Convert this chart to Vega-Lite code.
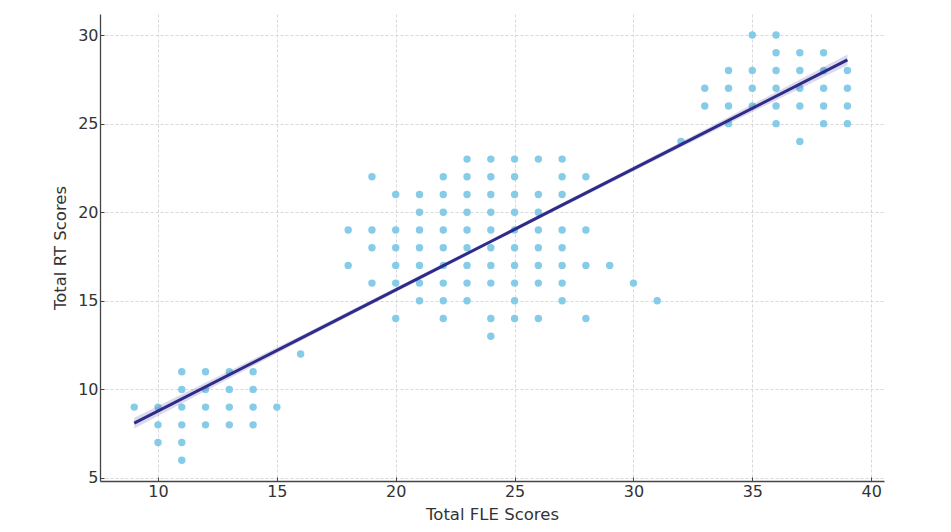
{
  "$schema": "https://vega.github.io/schema/vega-lite/v6.json",
  "autosize": "none",
  "width": 784,
  "height": 467,
  "padding": {"left": 100, "top": 14, "right": 67, "bottom": 51},
  "background": "white",
  "config": {
    "view": {"stroke": null},
    "font": "DejaVu Sans",
    "axis": {
      "labelFont": "DejaVu Sans",
      "titleFont": "DejaVu Sans",
      "labelFontSize": 16,
      "titleFontSize": 16.5,
      "titleFontWeight": "normal",
      "labelColor": "#333333",
      "titleColor": "#333333",
      "domainColor": "#444444",
      "domainWidth": 1.3,
      "tickColor": "#444444",
      "tickSize": -4,
      "labelPadding": 6,
      "gridColor": "#cfcfcf",
      "gridDash": [3, 2],
      "gridWidth": 0.8
    }
  },
  "datasets": {
    "points": [
      {"fle": 9, "rt": 9},
      {"fle": 10, "rt": 9}, {"fle": 10, "rt": 8}, {"fle": 10, "rt": 7},
      {"fle": 11, "rt": 11}, {"fle": 11, "rt": 10}, {"fle": 11, "rt": 9}, {"fle": 11, "rt": 8}, {"fle": 11, "rt": 7}, {"fle": 11, "rt": 6},
      {"fle": 12, "rt": 11}, {"fle": 12, "rt": 10}, {"fle": 12, "rt": 9}, {"fle": 12, "rt": 8},
      {"fle": 13, "rt": 11}, {"fle": 13, "rt": 10}, {"fle": 13, "rt": 9}, {"fle": 13, "rt": 8},
      {"fle": 14, "rt": 11}, {"fle": 14, "rt": 10}, {"fle": 14, "rt": 9}, {"fle": 14, "rt": 8},
      {"fle": 15, "rt": 9},
      {"fle": 16, "rt": 12},
      {"fle": 18, "rt": 19}, {"fle": 18, "rt": 17},
      {"fle": 19, "rt": 22}, {"fle": 19, "rt": 19}, {"fle": 19, "rt": 18}, {"fle": 19, "rt": 16},
      {"fle": 20, "rt": 21}, {"fle": 20, "rt": 19}, {"fle": 20, "rt": 18}, {"fle": 20, "rt": 17}, {"fle": 20, "rt": 16}, {"fle": 20, "rt": 14},
      {"fle": 21, "rt": 21}, {"fle": 21, "rt": 20}, {"fle": 21, "rt": 19}, {"fle": 21, "rt": 18}, {"fle": 21, "rt": 17}, {"fle": 21, "rt": 16}, {"fle": 21, "rt": 15},
      {"fle": 22, "rt": 22}, {"fle": 22, "rt": 21}, {"fle": 22, "rt": 20}, {"fle": 22, "rt": 19}, {"fle": 22, "rt": 18}, {"fle": 22, "rt": 17}, {"fle": 22, "rt": 16}, {"fle": 22, "rt": 15}, {"fle": 22, "rt": 14},
      {"fle": 23, "rt": 23}, {"fle": 23, "rt": 22}, {"fle": 23, "rt": 21}, {"fle": 23, "rt": 20}, {"fle": 23, "rt": 19}, {"fle": 23, "rt": 18}, {"fle": 23, "rt": 17}, {"fle": 23, "rt": 16}, {"fle": 23, "rt": 15},
      {"fle": 24, "rt": 23}, {"fle": 24, "rt": 22}, {"fle": 24, "rt": 21}, {"fle": 24, "rt": 20}, {"fle": 24, "rt": 19}, {"fle": 24, "rt": 18}, {"fle": 24, "rt": 17}, {"fle": 24, "rt": 16}, {"fle": 24, "rt": 14}, {"fle": 24, "rt": 13},
      {"fle": 25, "rt": 23}, {"fle": 25, "rt": 22}, {"fle": 25, "rt": 21}, {"fle": 25, "rt": 20}, {"fle": 25, "rt": 19}, {"fle": 25, "rt": 18}, {"fle": 25, "rt": 17}, {"fle": 25, "rt": 16}, {"fle": 25, "rt": 15}, {"fle": 25, "rt": 14},
      {"fle": 26, "rt": 23}, {"fle": 26, "rt": 21}, {"fle": 26, "rt": 20}, {"fle": 26, "rt": 19}, {"fle": 26, "rt": 18}, {"fle": 26, "rt": 17}, {"fle": 26, "rt": 16}, {"fle": 26, "rt": 14},
      {"fle": 27, "rt": 23}, {"fle": 27, "rt": 22}, {"fle": 27, "rt": 21}, {"fle": 27, "rt": 19}, {"fle": 27, "rt": 18}, {"fle": 27, "rt": 17}, {"fle": 27, "rt": 16}, {"fle": 27, "rt": 15},
      {"fle": 28, "rt": 22}, {"fle": 28, "rt": 19}, {"fle": 28, "rt": 17}, {"fle": 28, "rt": 14},
      {"fle": 29, "rt": 17},
      {"fle": 30, "rt": 16},
      {"fle": 31, "rt": 15},
      {"fle": 32, "rt": 24},
      {"fle": 33, "rt": 27}, {"fle": 33, "rt": 26},
      {"fle": 34, "rt": 28}, {"fle": 34, "rt": 27}, {"fle": 34, "rt": 26}, {"fle": 34, "rt": 25},
      {"fle": 35, "rt": 30}, {"fle": 35, "rt": 28}, {"fle": 35, "rt": 27}, {"fle": 35, "rt": 26},
      {"fle": 36, "rt": 30}, {"fle": 36, "rt": 29}, {"fle": 36, "rt": 28}, {"fle": 36, "rt": 27}, {"fle": 36, "rt": 26}, {"fle": 36, "rt": 25},
      {"fle": 37, "rt": 29}, {"fle": 37, "rt": 28}, {"fle": 37, "rt": 27}, {"fle": 37, "rt": 26}, {"fle": 37, "rt": 24},
      {"fle": 38, "rt": 29}, {"fle": 38, "rt": 28}, {"fle": 38, "rt": 27}, {"fle": 38, "rt": 26}, {"fle": 38, "rt": 25},
      {"fle": 39, "rt": 28}, {"fle": 39, "rt": 27}, {"fle": 39, "rt": 26}, {"fle": 39, "rt": 25}
    ],
    "fit": [
      {"fle": 9, "rt": 8.1, "lo": 7.8, "hi": 8.4},
      {"fle": 16, "rt": 12.88, "lo": 12.73, "hi": 13.03},
      {"fle": 24, "rt": 18.35, "lo": 18.25, "hi": 18.45},
      {"fle": 32, "rt": 23.82, "lo": 23.67, "hi": 23.97},
      {"fle": 39, "rt": 28.6, "lo": 28.3, "hi": 28.9}
    ]
  },
  "layer": [
    {
      "data": {"name": "points"},
      "mark": {"type": "circle", "size": 55, "color": "#80c8e6", "opacity": 0.95},
      "encoding": {
        "x": {"field": "fle", "type": "quantitative", "title": "Total FLE Scores",
              "scale": {"domain": [7.56, 40.54], "nice": false, "zero": false},
              "axis": {"values": [10, 15, 20, 25, 30, 35, 40], "titlePadding": 7}},
        "y": {"field": "rt", "type": "quantitative", "title": "Total RT Scores",
              "scale": {"domain": [4.83, 31.19], "nice": false, "zero": false},
              "axis": {"values": [5, 10, 15, 20, 25, 30], "titlePadding": 9}}
      }
    },
    {
      "data": {"name": "fit"},
      "mark": {"type": "area", "color": "#4a3fa0", "opacity": 0.2},
      "encoding": {
        "x": {"field": "fle", "type": "quantitative"},
        "y": {"field": "lo", "type": "quantitative"},
        "y2": {"field": "hi"}
      }
    },
    {
      "data": {"name": "fit"},
      "mark": {"type": "line", "color": "#2e2b8a", "strokeWidth": 3, "interpolate": "monotone"},
      "encoding": {
        "x": {"field": "fle", "type": "quantitative"},
        "y": {"field": "rt", "type": "quantitative"}
      }
    }
  ]
}
